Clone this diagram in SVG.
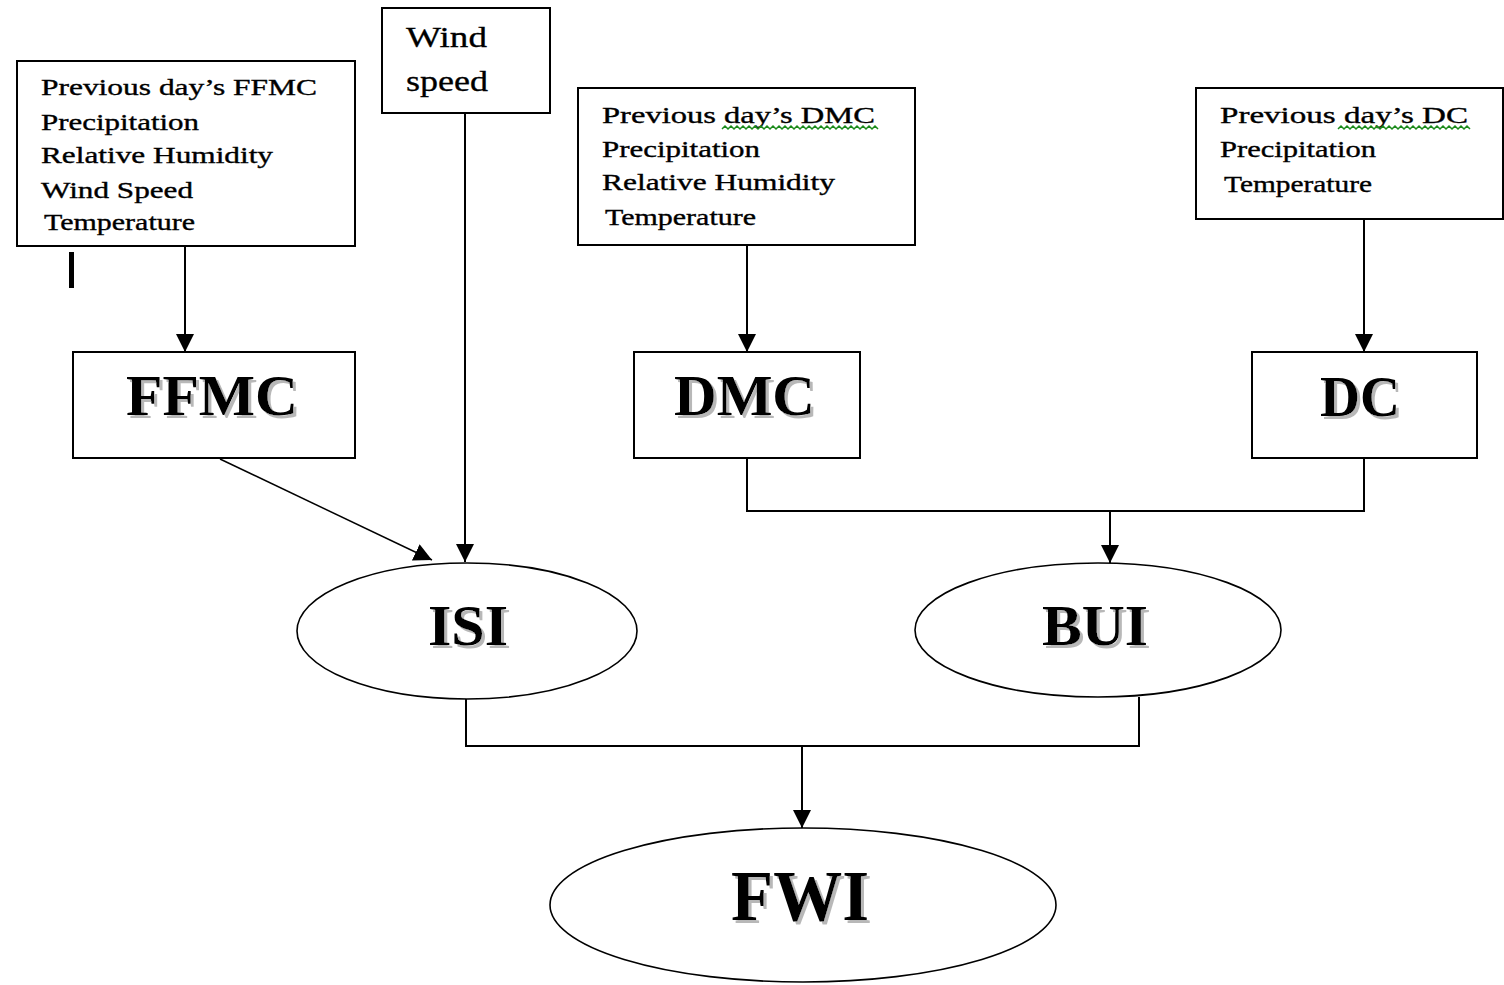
<svg xmlns="http://www.w3.org/2000/svg" width="1504" height="985" viewBox="0 0 1504 985">
<style>
.box{fill:#fff;stroke:#000;stroke-width:2}
.ell{fill:#fff;stroke:#000;stroke-width:1.6}
.ln{fill:none;stroke:#000;stroke-width:2}
.thin{fill:none;stroke:#000;stroke-width:1.5}
.sm{font-family:"Liberation Serif","Times New Roman",serif;font-size:23px;fill:#000;stroke:#000;stroke-width:0.35}
.wd{font-family:"Liberation Serif","Times New Roman",serif;font-size:30px;fill:#000;stroke:#000;stroke-width:0.3}
.big{font-family:"Liberation Serif","Times New Roman",serif;font-weight:bold;fill:#000;filter:url(#shadow)}
.sq{fill:none;stroke:#1a8a1a;stroke-width:1.5}
</style>
<defs>
<marker id="arr" viewBox="0 0 10 10" refX="10" refY="5" markerUnits="userSpaceOnUse" markerWidth="18" markerHeight="18" orient="auto">
<path d="M0,0 L10,5 L0,10 z" fill="#000"/>
</marker>
<filter id="shadow" x="-10%" y="-10%" width="130%" height="130%">
<feOffset in="SourceAlpha" dx="3" dy="3" result="off"/>
<feFlood flood-color="#b8b8b8"/>
<feComposite in2="off" operator="in" result="sh"/>
<feMerge><feMergeNode in="sh"/><feMergeNode in="SourceGraphic"/></feMerge>
</filter>
</defs>
<rect width="1504" height="985" fill="#fff"/>

<g id="connectors">
<line class="ln" x1="185" y1="246" x2="185" y2="352" marker-end="url(#arr)"/>
<line class="ln" x1="465" y1="113" x2="465" y2="562" marker-end="url(#arr)"/>
<line class="ln" x1="747" y1="245" x2="747" y2="352" marker-end="url(#arr)"/>
<line class="ln" x1="1364" y1="219" x2="1364" y2="352" marker-end="url(#arr)"/>
<line class="thin" x1="220" y1="459" x2="432" y2="560" marker-end="url(#arr)"/>
<polyline class="ln" points="747,458 747,511 1364,511 1364,458"/>
<line class="ln" x1="1110" y1="511" x2="1110" y2="563" marker-end="url(#arr)"/>
<polyline class="ln" points="466,699 466,746 1139,746 1139,697"/>
<line class="ln" x1="802" y1="746" x2="802" y2="828" marker-end="url(#arr)"/>
</g>

<rect x="69" y="252" width="5" height="36" fill="#000"/>

<g id="ffmc-inputs">
<rect class="box" x="17" y="61" width="338" height="185"/>
<text class="sm" x="41" y="95" textLength="276" lengthAdjust="spacingAndGlyphs">Previous day’s FFMC</text>
<text class="sm" x="41" y="130" textLength="158" lengthAdjust="spacingAndGlyphs">Precipitation</text>
<text class="sm" x="41" y="163" textLength="232" lengthAdjust="spacingAndGlyphs">Relative Humidity</text>
<text class="sm" x="41" y="198" textLength="152" lengthAdjust="spacingAndGlyphs">Wind Speed</text>
<text class="sm" x="44" y="230" textLength="151" lengthAdjust="spacingAndGlyphs">Temperature</text>
</g>

<g id="wind">
<rect class="box" x="382" y="8" width="168" height="105"/>
<text class="wd" x="406" y="47" textLength="81" lengthAdjust="spacingAndGlyphs">Wind</text>
<text class="wd" x="406" y="91" textLength="82" lengthAdjust="spacingAndGlyphs">speed</text>
</g>

<g id="dmc-inputs">
<rect class="box" x="578" y="88" width="337" height="157"/>
<text class="sm" x="602" y="123" textLength="273" lengthAdjust="spacingAndGlyphs">Previous day’s DMC</text>
<path class="sq" d="M722,129 l3,-3 3,3 3,-3 3,3 3,-3 3,3 3,-3 3,3 3,-3 3,3 3,-3 3,3 3,-3 3,3 3,-3 3,3 3,-3 3,3 3,-3 3,3 3,-3 3,3 3,-3 3,3 3,-3 3,3 3,-3 3,3 3,-3 3,3 3,-3 3,3 3,-3 3,3 3,-3 3,3 3,-3 3,3 3,-3 3,3 3,-3 3,3 3,-3 3,3 3,-3 3,3 3,-3 3,3 3,-3 3,3 3,-3 3,3"/>
<text class="sm" x="602" y="157" textLength="158" lengthAdjust="spacingAndGlyphs">Precipitation</text>
<text class="sm" x="602" y="190" textLength="233" lengthAdjust="spacingAndGlyphs">Relative Humidity</text>
<text class="sm" x="605" y="225" textLength="151" lengthAdjust="spacingAndGlyphs">Temperature</text>
</g>

<g id="dc-inputs">
<rect class="box" x="1196" y="88" width="307" height="131"/>
<text class="sm" x="1220" y="123" textLength="248" lengthAdjust="spacingAndGlyphs">Previous day’s DC</text>
<path class="sq" d="M1338,129 l3,-3 3,3 3,-3 3,3 3,-3 3,3 3,-3 3,3 3,-3 3,3 3,-3 3,3 3,-3 3,3 3,-3 3,3 3,-3 3,3 3,-3 3,3 3,-3 3,3 3,-3 3,3 3,-3 3,3 3,-3 3,3 3,-3 3,3 3,-3 3,3 3,-3 3,3 3,-3 3,3 3,-3 3,3 3,-3 3,3 3,-3 3,3 3,-3 3,3"/>
<text class="sm" x="1220" y="157" textLength="156" lengthAdjust="spacingAndGlyphs">Precipitation</text>
<text class="sm" x="1224" y="192" textLength="148" lengthAdjust="spacingAndGlyphs">Temperature</text>
</g>

<g id="ffmc">
<rect class="box" x="73" y="352" width="282" height="106"/>
<text class="big" x="126" y="415" font-size="56" textLength="172" lengthAdjust="spacingAndGlyphs">FFMC</text>
</g>

<g id="dmc">
<rect class="box" x="634" y="352" width="226" height="106"/>
<text class="big" x="674" y="415" font-size="56" textLength="141" lengthAdjust="spacingAndGlyphs">DMC</text>
</g>

<g id="dc">
<rect class="box" x="1252" y="352" width="225" height="106"/>
<text class="big" x="1320" y="416" font-size="56" textLength="80" lengthAdjust="spacingAndGlyphs">DC</text>
</g>

<g id="isi">
<ellipse class="ell" cx="467" cy="631" rx="170" ry="68"/>
<text class="big" x="428" y="645" font-size="58" textLength="80" lengthAdjust="spacingAndGlyphs">ISI</text>
</g>

<g id="bui">
<ellipse class="ell" cx="1098" cy="630" rx="183" ry="67"/>
<text class="big" x="1042" y="645" font-size="58" textLength="106" lengthAdjust="spacingAndGlyphs">BUI</text>
</g>

<g id="fwi">
<ellipse class="ell" cx="803" cy="905" rx="253" ry="77"/>
<text class="big" x="731" y="920" font-size="71" textLength="138" lengthAdjust="spacingAndGlyphs">FWI</text>
</g>
</svg>
